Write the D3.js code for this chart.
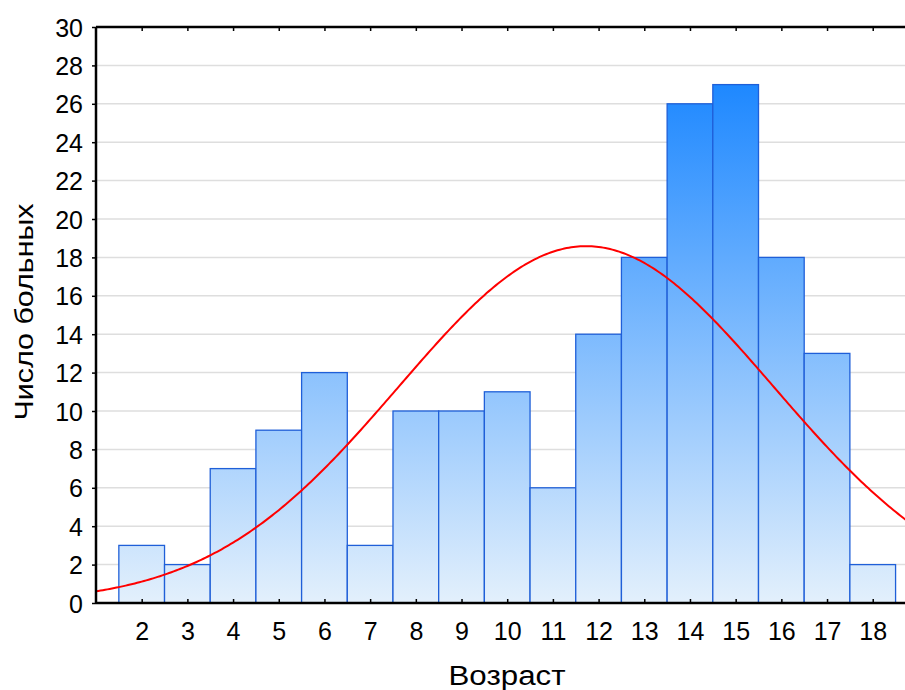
<!DOCTYPE html>
<html>
<head>
<meta charset="utf-8">
<script src="https://cdn.jsdelivr.net/npm/d3@7"></script>
<style>
  html, body { margin: 0; padding: 0; background: #fff; }
  svg { display: block; font-family: "Liberation Sans", Arial, sans-serif; }
</style>
</head>
<body>
<svg id="chart" width="905" height="690"></svg>
<script>
// Age of patients (years) and number of patients per age
const ages = [2, 3, 4, 5, 6, 7, 8, 9, 10, 11, 12, 13, 14, 15, 16, 17, 18];
const counts = [3, 2, 7, 9, 12, 3, 10, 10, 11, 6, 14, 18, 26, 27, 18, 13, 2];
const yTicks = [0, 2, 4, 6, 8, 10, 12, 14, 16, 18, 20, 22, 24, 26, 28, 30];
const xLabel = "Возраст";
const yLabel = "Число больных";

(function () {
  const svg = d3.select("#chart");
  const W = 905, H = 690;
  const mLeft = 96, mTop = 27, mBottom = 603;

  const x = d3.scaleLinear().domain([1, 19]).range([mLeft, mLeft + 18 * 45.69]);
  const y = d3.scaleLinear().domain([0, 30]).range([mBottom, mTop]);

  // vertical gradient for the bars, shared across the plot
  const defs = svg.append("defs");
  const grad = defs.append("linearGradient")
    .attr("id", "barFill")
    .attr("gradientUnits", "userSpaceOnUse")
    .attr("x1", 0).attr("x2", 0)
    .attr("y1", y(0)).attr("y2", y(27));
  grad.append("stop").attr("offset", "0%").attr("stop-color", "#e3f0fc");
  grad.append("stop").attr("offset", "100%").attr("stop-color", "#1e88ff");

  defs.append("clipPath").attr("id", "plotClip")
    .append("rect").attr("x", mLeft).attr("y", mTop - 2)
    .attr("width", W - mLeft).attr("height", mBottom - mTop + 2);

  // horizontal grid
  svg.append("g")
    .selectAll("line")
    .data(yTicks.filter(d => d > 0 && d < 30))
    .join("line")
    .attr("x1", mLeft).attr("x2", W)
    .attr("y1", d => y(d)).attr("y2", d => y(d))
    .attr("stroke", "#dedede").attr("stroke-width", 1.5);

  // histogram bars
  svg.append("g")
    .selectAll("rect")
    .data(ages.map((a, i) => ({ a, c: counts[i] })))
    .join("rect")
    .attr("x", d => x(d.a - 0.5))
    .attr("y", d => y(d.c))
    .attr("width", d => x(d.a + 0.5) - x(d.a - 0.5))
    .attr("height", d => y(0) - y(d.c))
    .attr("fill", "url(#barFill)")
    .attr("stroke", "#1f5fd8")
    .attr("stroke-width", 1.3);

  // fitted normal curve from the sample mean and standard deviation
  const n = d3.sum(counts);
  const mean = d3.sum(ages, (a, i) => a * counts[i]) / n;
  const variance = d3.sum(ages, (a, i) => counts[i] * (a - mean) ** 2) / (n - 1);
  const sd = Math.sqrt(variance);
  const normal = v => n / (sd * Math.sqrt(2 * Math.PI)) * Math.exp(-((v - mean) ** 2) / (2 * sd * sd));
  const curveX = d3.range(1, 19.001, 0.05);
  svg.append("path")
    .datum(curveX)
    .attr("clip-path", "url(#plotClip)")
    .attr("fill", "none")
    .attr("stroke", "#ff0000")
    .attr("stroke-width", 2)
    .attr("d", d3.line().x(d => x(d)).y(d => y(normal(d))));

  // axes
  const fontSize = 25;
  const yAxis = svg.append("g")
    .attr("transform", `translate(${mLeft},0)`)
    .call(d3.axisLeft(y).tickValues(yTicks).tickSize(4).tickPadding(9));
  const xAxis = svg.append("g")
    .attr("transform", `translate(0,${mBottom})`)
    .call(d3.axisBottom(x).tickValues(ages).tickSize(-4).tickPadding(19));
  const topAxis = svg.append("g")
    .attr("transform", `translate(0,${mTop})`)
    .call(d3.axisTop(x).tickValues(ages).tickSize(-4).tickFormat(""));

  [yAxis, xAxis, topAxis].forEach(g => {
    g.select(".domain").attr("stroke", "#000").attr("stroke-width", 2.5);
    g.selectAll(".tick line").attr("stroke", "#000").attr("stroke-width", 1.5);
    g.selectAll(".tick text").attr("fill", "#000")
      .attr("font-size", fontSize)
      .attr("font-family", "Liberation Sans, Arial, sans-serif");
  });
  xAxis.select(".domain").attr("d", `M${mLeft},0H${W}`);
  topAxis.select(".domain").attr("d", `M${mLeft},0H${W}`);
  yAxis.select(".domain").attr("d", `M0,${mBottom}V${mTop}`);
  yAxis.selectAll(".tick text").attr("dy", "0.36em");

  // axis titles
  svg.append("text")
    .attr("x", 507).attr("y", 685)
    .attr("text-anchor", "middle")
    .attr("font-size", 27)
    .attr("textLength", 117).attr("lengthAdjust", "spacingAndGlyphs")
    .text(xLabel);
  svg.append("text")
    .attr("transform", "translate(33,312) rotate(-90)")
    .attr("text-anchor", "middle")
    .attr("font-size", 26)
    .attr("textLength", 217).attr("lengthAdjust", "spacingAndGlyphs")
    .text(yLabel);
})();
</script>
</body>
</html>
